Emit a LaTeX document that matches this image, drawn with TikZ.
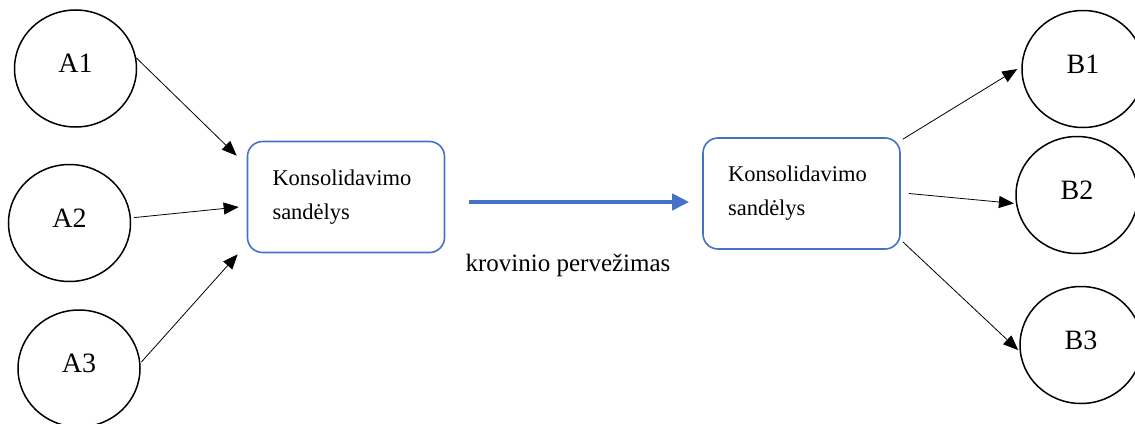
\documentclass[tikz,border=0pt]{standalone}
\usepackage{fontspec}
\setmainfont{Liberation Serif}
\usetikzlibrary{shapes.geometric}
\usetikzlibrary{arrows.meta}
\definecolor{boxblue}{HTML}{4472C4}
\tikzset{
  punktas/.style={draw,ellipse,line width=1.5pt,minimum width=122pt,
    minimum height=117pt,inner sep=0pt,text depth=10pt,
    font=\fontsize{28}{30}\selectfont},
  sandelis/.style={draw=boxblue,rounded corners=15pt,line width=1.6pt,
    text width=147pt,inner xsep=25pt,minimum height=111pt,align=left,
    font=\fontsize{22.5}{34}\selectfont},
  srautas/.style={-{Triangle[length=15pt,width=12pt]},line width=0.8pt},
  gabenimas/.style={-{Triangle[length=17pt,width=16pt]},draw=boxblue,line width=4pt}
}
\begin{document}
\begin{tikzpicture}[x=1pt,y=1pt]
    \useasboundingbox (0,0) rectangle (1135,-423);
    \node[punktas] (A1) at (75.5,-68.5) {A1};
    \node[punktas] (A2) at (69.5,-223) {A2};
    \node[punktas] (A3) at (79,-368.5) {A3};
    \node[sandelis] (sand1) at (346,-197) {Konsolidavimo\\sandėlys};
    \node[sandelis] (sand2) at (801.5,-193.5) {Konsolidavimo\\sandėlys};
    \node[punktas] (B1) at (1083,-69) {B1};
    \node[punktas] (B2) at (1077,-195) {B2};
    \node[punktas] (B3) at (1081,-345) {B3};
    \node[font=\fontsize{25}{27}\selectfont] (pervez) at (568,-265)
      {krovinio pervežimas};
    \draw[srautas] (A1.10)
      -- ([xshift=-10pt,yshift=-15pt]sand1.north west);
    \draw[srautas] ([xshift=3pt]A2.5)
      -- ([xshift=-8pt,yshift=-10pt]sand1.west);
    \draw[srautas] ([xshift=1pt]A3.6)
      -- ([xshift=-9pt,yshift=-1pt]sand1.south west);
    \draw[gabenimas] ([xshift=24pt,yshift=-5pt]sand1.east)
      -- ([xshift=-13pt,yshift=-8.5pt]sand2.west);
    \draw[srautas] ([xshift=2pt,yshift=-2pt]sand2.north east)
      -- ([xshift=-4pt]B1.west);
    \draw[srautas,shorten >=2pt] ([xshift=8pt]sand2.east) -- (B2.188);
    \draw[srautas,shorten >=2pt] ([xshift=2pt,yshift=8pt]sand2.south east)
      -- (B3.186);
\end{tikzpicture}
\end{document}
